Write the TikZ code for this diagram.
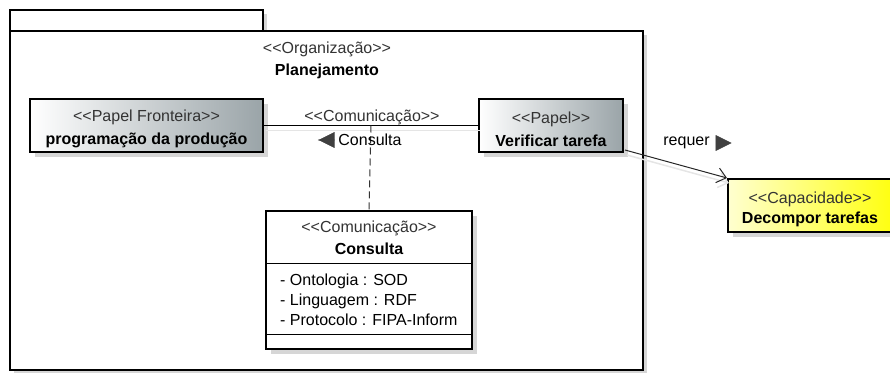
\documentclass[tikz,border=0pt]{standalone}
\usepackage{fontspec}
\setmainfont{Liberation Sans}[Ligatures=TeXOff]
\usepackage{tikz}
\usetikzlibrary{arrows.meta,positioning,calc,shadows}
\definecolor{stereogray}{HTML}{333333}
\definecolor{rolegray}{HTML}{9AA4A8}
\definecolor{capyellow}{HTML}{FFFF10}
\definecolor{capcream}{HTML}{FFFFD0}
\definecolor{shadowgray}{HTML}{D6D6D6}
\newcommand{\stereo}[1]{{\color{stereogray}\textless\kern0pt\textless#1\textgreater\kern0pt\textgreater}}
\newcommand{\topstrut}{\rule{0pt}{19pt}}
\tikzset{
  boxshadow/.style={drop shadow={shadow xshift=#1,shadow yshift=-#1,fill=shadowgray,opacity=1}},
  boxshadow/.default={5pt},
  rolebox/.style={rectangle,draw=black,line width=2pt,left color=white,right color=rolegray,
    boxshadow,align=center,minimum height=53pt,inner sep=0pt,font=\fontsize{16}{23}\selectfont},
  capbox/.style={rectangle,draw=black,line width=2pt,left color=capcream,right color=capyellow,
    boxshadow,align=center,minimum height=53pt,inner sep=0pt,font=\fontsize{16}{20}\selectfont},
  classbox/.style={rectangle,draw=black,line width=2pt,fill=white,boxshadow,
    minimum width=206pt,minimum height=138pt,inner sep=0pt},
  pkgbox/.style={rectangle,draw=black,line width=2pt,fill=white,boxshadow=4pt,inner sep=0pt},
  txt/.style={inner sep=0pt,font=\fontsize{16}{19}\selectfont},
  linkshadow/.style={preaction={draw=black!10,line width=1.5pt,transform canvas={shift={(2pt,-5pt)}}}},
  assoc/.style={line width=1pt,draw=black,linkshadow},
  dep/.style={line width=1pt,draw=black!80,dash pattern=on 7pt off 4pt},
  reqarrow/.style={line width=1pt,draw=black!85,linkshadow,-{Straight Barb[length=9pt,width=15pt]}},
  navtri/.style={fill=black!75,draw=black!75,line width=0.6pt},
}
\begin{document}
\begin{tikzpicture}[x=1pt,y=-1pt]
  \useasboundingbox (0,0) rectangle (890,372);
  \clip (0,0) rectangle (890,372);
  % package
  \node[pkgbox,minimum width=253pt,minimum height=21pt] (tab) at (136.5,20.5) {};
  \node[pkgbox,minimum width=633pt,minimum height=339pt] (pkg) at (326.5,200.5) {};
  \node[txt] (orgst) at (327,49) {\stereo{Organização}};
  \node[txt,font=\fontsize{16}{19}\selectfont\bfseries] (orgname) at (327,71) {Planejamento};
  % roles
  \node[rolebox,minimum width=233pt] (fronteira) at (146.5,125.5)
    {\topstrut\stereo{Papel Fronteira}\\\textbf{programação da produção}};
  \node[rolebox,minimum width=144pt] (verif) at (551,125.5)
    {\topstrut\stereo{Papel}\\\textbf{Verificar tarefa}};
  \node[capbox,minimum width=164pt] (cap) at (810,205.5)
    {\topstrut\stereo{Capacidade}\\\textbf{Decompor tarefas}};
  % communication class
  \node[classbox] (consulta) at (369,280) {};
  \draw[line width=1pt] (consulta.west |- 0,263) -- (consulta.east |- 0,263);
  \draw[line width=1pt] (consulta.west |- 0,334) -- (consulta.east |- 0,334);
  \node[txt] (comst) at (369,228) {\stereo{Comunicação}};
  \node[txt,font=\fontsize{16}{19}\selectfont\bfseries] (comname) at (369,249) {Consulta};
  \node[txt,align=left,anchor=west,font=\fontsize{16}{20}\selectfont] (attrs) at (280,300)
    {- Ontologia : SOD\\- Linguagem : RDF\\- Protocolo : FIPA-Inform};
  % connectors
  \draw[assoc] (fronteira) -- (verif) coordinate[midway] (mid);
  \draw[dep] (mid) -- (consulta.north);
  \node[txt] (assocst) at (372,117) {\stereo{Comunicação}};
  \node[txt] (assocname) at (370,140) {Consulta};
  \fill[navtri] ($(assocname.west)+(-4,0)$) -- ++(-15,0) -- ++(15,-7.5) -- cycle;
  \fill[navtri] ($(assocname.west)+(-4,0)$) -- ++(0,7.5) -- ++(-15,-7.5) -- cycle;
  \draw[reqarrow] ($(verif.south east)+(1,-3)$) -- (cap.north west);
  \node[txt] (reqlabel) at (686.5,143) {requer};
  \fill[navtri] ($(reqlabel.east)+(6,-7.5)$) -- ++(15,7.5) -- ++(-15,7.5) -- cycle;
\end{tikzpicture}
\end{document}
